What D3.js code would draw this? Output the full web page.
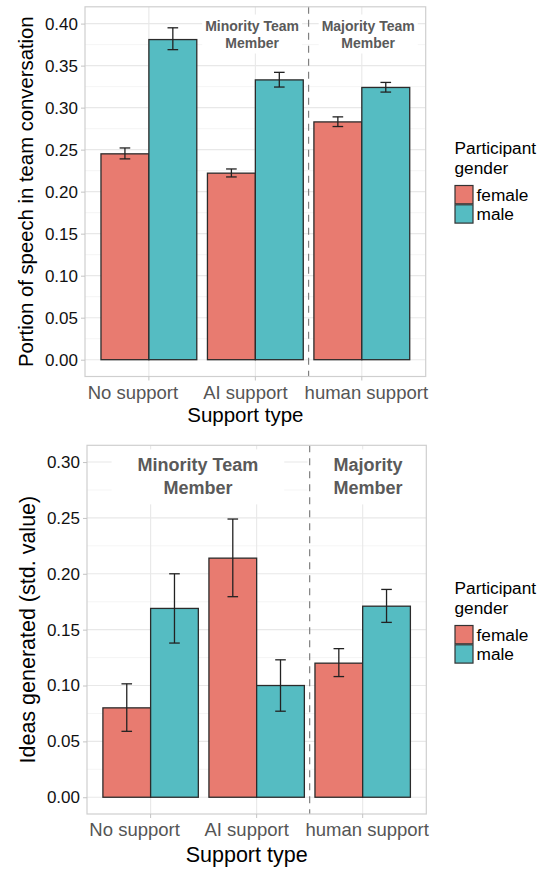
<!DOCTYPE html>
<html>
<head>
<meta charset="utf-8">
<script src="https://cdn.jsdelivr.net/npm/d3@7"></script>
<style>
  body { margin: 0; background: #fff; }
  text { font-family: "Liberation Sans", Arial, Helvetica, sans-serif; }
</style>
</head>
<body>
<svg id="fig" width="548" height="869"></svg>
<script>
// categories
const supportTypes = ["No support", "AI support", "human support"];
const genders = ["female", "male"];

// top chart: portion of speech
const speechFemale = [0.245, 0.222, 0.283];
const speechFemaleLo = [0.239, 0.2175, 0.2775];
const speechFemaleHi = [0.252, 0.227, 0.289];
const speechMale = [0.381, 0.333, 0.324];
const speechMaleLo = [0.369, 0.3245, 0.3185];
const speechMaleHi = [0.395, 0.342, 0.330];
const speechTicks = [0, 0.05, 0.10, 0.15, 0.20, 0.25, 0.30, 0.35, 0.40];

// bottom chart: ideas generated
const ideasFemale = [0.080, 0.214, 0.120];
const ideasFemaleLo = [0.059, 0.1795, 0.108];
const ideasFemaleHi = [0.1015, 0.249, 0.133];
const ideasMale = [0.169, 0.100, 0.171];
const ideasMaleLo = [0.138, 0.077, 0.1565];
const ideasMaleHi = [0.200, 0.123, 0.186];
const ideasTicks = [0, 0.05, 0.10, 0.15, 0.20, 0.25, 0.30];

const colors = { female: "#E87B70", male: "#55BCC2" };

// the tick labels in the original sit a bit off their ticks
const labelShift = { "No support": -16, "AI support": -10, "human support": 4.5 };

const svg = d3.select("#fig");

// build rows for a chart
function makeRows(fem, femLo, femHi, mal, malLo, malHi) {
  const rows = [];
  supportTypes.forEach((s, i) => {
    rows.push({ support: s, gender: "female", value: fem[i], lo: femLo[i], hi: femHi[i] });
    rows.push({ support: s, gender: "male", value: mal[i], lo: malLo[i], hi: malHi[i] });
  });
  return rows;
}

function drawChart(cfg) {
  const g = svg.append("g");
  const p = cfg.panel;

  const x = d3.scaleBand()
    .domain(supportTypes)
    .range([p.x0, p.x1])
    .paddingInner(0)
    .paddingOuter(0.1);

  const xInner = d3.scaleBand()
    .domain(genders)
    .range([-0.45 * x.step(), 0.45 * x.step()]);

  const y = d3.scaleLinear()
    .domain(cfg.yDomain)
    .range([p.y1, p.y0]);

  const centre = s => x(s) + x.bandwidth() / 2;

  // minor grid
  const minors = cfg.ticks.slice(0, -1).map(t => t + 0.025);
  g.selectAll(".minor").data(minors).join("line")
    .attr("x1", p.x0).attr("x2", p.x1)
    .attr("y1", d => y(d)).attr("y2", d => y(d))
    .attr("stroke", "#f3f3f3").attr("stroke-width", 0.8);

  // major grid
  g.selectAll(".major").data(cfg.ticks).join("line")
    .attr("x1", p.x0).attr("x2", p.x1)
    .attr("y1", d => y(d)).attr("y2", d => y(d))
    .attr("stroke", "#e8e8e8").attr("stroke-width", 1.1);

  g.selectAll(".vgrid").data(supportTypes).join("line")
    .attr("x1", d => centre(d)).attr("x2", d => centre(d))
    .attr("y1", p.y0).attr("y2", p.y1)
    .attr("stroke", "#e8e8e8").attr("stroke-width", 1.1);

  // annotation labels with white background
  cfg.notes.forEach(n => {
    const lg = g.append("g");
    const tx = centre(supportTypes[0]) + (n.at - 1) * x.step();
    const ty = y(n.y);
    const t = lg.append("text")
      .attr("x", tx).attr("y", ty)
      .attr("text-anchor", "middle")
      .attr("font-weight", "bold")
      .attr("font-size", cfg.noteSize)
      .attr("fill", "#5a5a5a");
    n.lines.forEach((line, i) => {
      t.append("tspan").attr("x", tx)
        .attr("dy", i === 0 ? -(n.lines.length - 1) * cfg.noteLead / 2 + cfg.noteSize * 0.35 : cfg.noteLead)
        .text(line);
    });
    const bb = t.node().getBBox();
    lg.insert("rect", "text")
      .attr("x", bb.x - cfg.notePadX).attr("y", bb.y - cfg.notePadY)
      .attr("width", bb.width + 2 * cfg.notePadX)
      .attr("height", bb.height + 2 * cfg.notePadY)
      .attr("fill", "#fff");
  });

  // dashed separator between AI and human support
  const sepX = (centre(supportTypes[1]) + centre(supportTypes[2])) / 2;
  g.append("line")
    .attr("x1", sepX).attr("x2", sepX)
    .attr("y1", p.y0).attr("y2", p.y1)
    .attr("stroke", "#808080").attr("stroke-width", 1.2)
    .attr("stroke-dasharray", "7,6");

  // bars
  g.selectAll(".bar").data(cfg.rows).join("rect")
    .attr("x", d => centre(d.support) + xInner(d.gender))
    .attr("y", d => y(d.value))
    .attr("width", xInner.bandwidth())
    .attr("height", d => y(0) - y(d.value))
    .attr("fill", d => colors[d.gender])
    .attr("stroke", "#2b2b2b").attr("stroke-width", 1.3);

  // error bars
  const cap = x.step() * 0.05;
  const mid = d => centre(d.support) + xInner(d.gender) + xInner.bandwidth() / 2;
  const eb = g.selectAll(".err").data(cfg.rows).join("g")
    .attr("stroke", "#222").attr("stroke-width", 1.3);
  eb.append("line")
    .attr("x1", mid).attr("x2", mid)
    .attr("y1", d => y(d.lo)).attr("y2", d => y(d.hi));
  ["lo", "hi"].forEach(k => {
    eb.append("line")
      .attr("x1", d => mid(d) - cap)
      .attr("x2", d => mid(d) + cap)
      .attr("y1", d => y(d[k])).attr("y2", d => y(d[k]));
  });

  // panel border
  g.append("rect")
    .attr("x", p.x0).attr("y", p.y0)
    .attr("width", p.x1 - p.x0).attr("height", p.y1 - p.y0)
    .attr("fill", "none").attr("stroke", "#cfcfcf").attr("stroke-width", 1.2);

  // y axis
  const yAxis = g.append("g")
    .attr("transform", `translate(${p.x0},0)`)
    .call(d3.axisLeft(y).tickValues(cfg.ticks).tickFormat(d3.format(".2f")).tickSize(4).tickPadding(3));
  yAxis.select(".domain").remove();
  yAxis.selectAll("line").attr("stroke", "#c4c4c4");
  yAxis.selectAll("text")
    .attr("font-size", cfg.yTickSize).attr("fill", "#111")
    .style("font-family", "Liberation Sans, Arial, sans-serif");

  // x axis
  const xAxis = g.append("g")
    .attr("transform", `translate(0,${p.y1})`)
    .call(d3.axisBottom(x).tickSize(4).tickPadding(5));
  xAxis.select(".domain").remove();
  xAxis.selectAll("line").attr("stroke", "#c4c4c4");
  xAxis.selectAll("text")
    .attr("dx", d => labelShift[d])
    .attr("font-size", cfg.xTickSize).attr("fill", "#555")
    .style("font-family", "Liberation Sans, Arial, sans-serif");

  // axis titles
  g.append("text")
    .attr("transform", `translate(${cfg.yTitleX},${(p.y0 + p.y1) / 2}) rotate(-90)`)
    .attr("text-anchor", "middle")
    .attr("dy", "0.35em")
    .attr("font-size", cfg.yTitleSize).attr("fill", "#000")
    .text(cfg.yTitle);

  g.append("text")
    .attr("x", (p.x0 + p.x1) / 2 - 10).attr("y", cfg.xTitleY)
    .attr("text-anchor", "middle")
    .attr("font-size", cfg.xTitleSize).attr("fill", "#000")
    .text("Support type");

  // legend
  const lg = g.append("g").attr("transform", `translate(454.5,${cfg.legendY})`);
  lg.append("text").attr("x", 0).attr("y", 0).attr("font-size", 17.3).text("Participant");
  lg.append("text").attr("x", 0).attr("y", 20).attr("font-size", 17.3).text("gender");
  genders.forEach((gd, i) => {
    lg.append("rect")
      .attr("x", 0.5).attr("y", 31.5 + i * 19.3)
      .attr("width", 18).attr("height", 18.3)
      .attr("fill", colors[gd]).attr("stroke", "#333").attr("stroke-width", 1.2);
    lg.append("text")
      .attr("x", 22).attr("y", 41 + i * 19.3).attr("dy", "0.35em")
      .attr("font-size", 17.3).text(gd);
  });
}

drawChart({
  rows: makeRows(speechFemale, speechFemaleLo, speechFemaleHi, speechMale, speechMaleLo, speechMaleHi),
  panel: { x0: 85, x1: 425.7, y0: 6.8, y1: 376.5 },
  yDomain: [-0.02, 0.42],
  ticks: speechTicks,
  yTitle: "Portion of speech in team conversation",
  yTitleX: 26, yTitleSize: 20.3,
  xTitleY: 422, xTitleSize: 20.5,
  xTickSize: 18.5, yTickSize: 17,
  legendY: 154,
  noteSize: 14, noteLead: 17, notePadX: 3, notePadY: 3,
  notes: [
    { lines: ["Minority Team", "Member"], at: 1.97, y: 0.3875 },
    { lines: ["Majority Team", "Member"], at: 3.06, y: 0.3875 }
  ]
});

drawChart({
  rows: makeRows(ideasFemale, ideasFemaleLo, ideasFemaleHi, ideasMale, ideasMaleLo, ideasMaleHi),
  panel: { x0: 87, x1: 426.3, y0: 445.3, y1: 814 },
  yDomain: [-0.015, 0.315],
  ticks: ideasTicks,
  yTitle: "Ideas generated (std. value)",
  yTitleX: 27, yTitleSize: 21.5,
  xTitleY: 861.5, xTitleSize: 21.5,
  xTickSize: 18.5, yTickSize: 17,
  legendY: 594,
  noteSize: 18, noteLead: 23, notePadX: 26, notePadY: 6,
  notes: [
    { lines: ["Minority Team", "Member"], at: 1.446, y: 0.287 },
    { lines: ["Majority", "Member"], at: 3.05, y: 0.287 }
  ]
});
</script>
</body>
</html>
